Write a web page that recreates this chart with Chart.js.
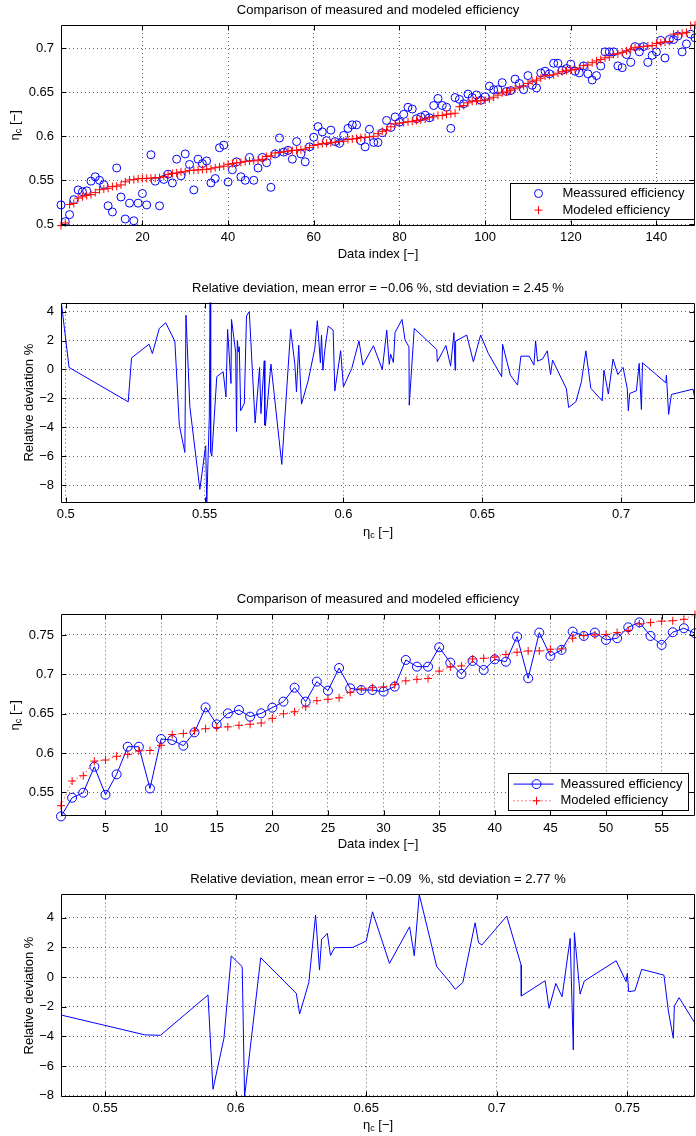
<!DOCTYPE html>
<html lang="en">
<head>
<meta charset="UTF-8">
<title>Measured and modeled efficiency</title>
<script src="https://cdn.jsdelivr.net/npm/chart.js"></script>
<style>
  body { margin: 0; background: #fff; }
  canvas { position: absolute; left: 0; }
</style>
</head>
<body>
<canvas id="c1" width="696" height="262" style="top:0px"></canvas>
<canvas id="c2" width="696" height="283" style="top:262px"></canvas>
<canvas id="c3" width="696" height="308" style="top:545px"></canvas>
<canvas id="c4" width="696" height="283" style="top:853px"></canvas>
<script>
// ---- panel 1: 149 samples, measured vs modeled efficiency
const measured1 = [
  0.522, 0.503, 0.511, 0.528, 0.539, 0.537, 0.538, 0.549, 0.554, 0.550,
  0.545, 0.521, 0.514, 0.564, 0.531, 0.506, 0.524, 0.504, 0.524, 0.535,
  0.522, 0.579, 0.549, 0.521, 0.551, 0.557, 0.547, 0.574, 0.555, 0.580,
  0.568, 0.539, 0.574, 0.569, 0.572, 0.547, 0.552, 0.587, 0.590, 0.548,
  0.562, 0.571, 0.554, 0.550, 0.576, 0.550, 0.564, 0.576, 0.570, 0.542,
  0.580, 0.598, 0.582, 0.584, 0.574, 0.594, 0.580, 0.571, 0.588, 0.599,
  0.611, 0.605, 0.595, 0.607, 0.594, 0.592, 0.601, 0.609, 0.613, 0.613,
  0.595, 0.588, 0.608, 0.593, 0.593, 0.604, 0.618, 0.610, 0.622, 0.616,
  0.625, 0.633, 0.631, 0.620, 0.622, 0.624, 0.621, 0.635, 0.643, 0.635,
  0.633, 0.609, 0.644, 0.642, 0.637, 0.648, 0.644, 0.647, 0.641, 0.645,
  0.657, 0.653, 0.653, 0.661, 0.651, 0.652, 0.665, 0.660, 0.653, 0.669,
  0.658, 0.655, 0.672, 0.674, 0.671, 0.683, 0.683, 0.675, 0.677, 0.682,
  0.674, 0.672, 0.680, 0.671, 0.664, 0.669, 0.680, 0.696, 0.696, 0.696,
  0.680, 0.678, 0.693, 0.684, 0.702, 0.696, 0.702, 0.684, 0.692, 0.696,
  0.709, 0.689, 0.710, 0.710, 0.714, 0.696, 0.705, 0.716, 0.712
];
const modeled1 = [
  0.4985, 0.5015, 0.5225, 0.5237, 0.5297, 0.5312, 0.5326, 0.5337, 0.5360, 0.5393,
  0.5400, 0.5409, 0.5429, 0.5433, 0.5447, 0.5483, 0.5504, 0.5508, 0.5517, 0.5520,
  0.5522, 0.5524, 0.5526, 0.5530, 0.5544, 0.5567, 0.5577, 0.5583, 0.5595, 0.5597,
  0.5612, 0.5615, 0.5618, 0.5622, 0.5625, 0.5630, 0.5643, 0.5651, 0.5661, 0.5682,
  0.5690, 0.5698, 0.5703, 0.5715, 0.5719, 0.5722, 0.5730, 0.5739, 0.5770, 0.5778,
  0.5810, 0.5815, 0.5825, 0.5831, 0.5839, 0.5842, 0.5849, 0.5855, 0.5873, 0.5897,
  0.5906, 0.5917, 0.5921, 0.5926, 0.5933, 0.5940, 0.5945, 0.5963, 0.5969, 0.5975,
  0.5985, 0.5988, 0.5993, 0.6000, 0.6030, 0.6056, 0.6070, 0.6108, 0.6140, 0.6150,
  0.6156, 0.6165, 0.6170, 0.6180, 0.6186, 0.6195, 0.6211, 0.6222, 0.6236, 0.6237,
  0.6250, 0.6255, 0.6262, 0.6336, 0.6350, 0.6380, 0.6398, 0.6402, 0.6404, 0.6410,
  0.6425, 0.6444, 0.6468, 0.6494, 0.6505, 0.6522, 0.6540, 0.6560, 0.6573, 0.6601,
  0.6627, 0.6639, 0.6660, 0.6686, 0.6692, 0.6699, 0.6717, 0.6734, 0.6746, 0.6753,
  0.6760, 0.6775, 0.6803, 0.6811, 0.6837, 0.6857, 0.6873, 0.6891, 0.6900, 0.6932,
  0.6938, 0.6954, 0.6971, 0.6988, 0.7007, 0.7015, 0.7022, 0.7026, 0.7031, 0.7055,
  0.7065, 0.7073, 0.7077, 0.7161, 0.7163, 0.7171, 0.7181, 0.7259, 0.7265
];

// ---- panel 2: relative deviation (%) against eta_c, as traced
const devEta2 = [
  0.4985, 0.5012, 0.5225, 0.5237, 0.5300, 0.5312, 0.5337, 0.5360, 0.5393, 0.5409,
  0.5429, 0.5433, 0.5447, 0.5483, 0.5504, 0.5508, 0.5517, 0.5520, 0.5522, 0.5526,
  0.5544, 0.5567, 0.5577, 0.5583, 0.5595, 0.5597, 0.5612, 0.5615, 0.5618, 0.5622,
  0.5625, 0.5630, 0.5643, 0.5651, 0.5661, 0.5682, 0.5698, 0.5703, 0.5715, 0.5717,
  0.5719, 0.5739, 0.5778, 0.5810, 0.5825, 0.5831, 0.5839, 0.5849, 0.5873, 0.5897,
  0.5906, 0.5917, 0.5921, 0.5926, 0.5933, 0.5945, 0.5963, 0.5969, 0.5990, 0.6000,
  0.6030, 0.6056, 0.6070, 0.6108, 0.6140, 0.6156, 0.6165, 0.6170, 0.6180, 0.6186,
  0.6211, 0.6222, 0.6236, 0.6237, 0.6255, 0.6336, 0.6338, 0.6369, 0.6386, 0.6398,
  0.6402, 0.6404, 0.6444, 0.6468, 0.6494, 0.6522, 0.6570, 0.6573, 0.6601, 0.6627,
  0.6639, 0.6669, 0.6686, 0.6692, 0.6699, 0.6717, 0.6734, 0.6746, 0.6753, 0.6803,
  0.6811, 0.6837, 0.6857, 0.6873, 0.6891, 0.6932, 0.6938, 0.6954, 0.6971, 0.6988,
  0.7007, 0.7022, 0.7026, 0.7031, 0.7055, 0.7065, 0.7073, 0.7077, 0.7161, 0.7163,
  0.7171, 0.7181, 0.7259, 0.7265
];
const devPct2 = [
  4.50, 0.14, -2.24, 0.80, 1.75, 1.10, 2.84, 3.23, 1.96, -3.85,
  -5.74, 3.76, -2.58, -8.30, -5.28, -9.22, -3.28, 4.62, -5.70, -6.00,
  -0.50, -0.16, -1.90, 2.77, -0.97, 3.46, 1.20, -4.30, 2.00, 1.20,
  1.57, -2.86, -2.35, 3.70, 4.00, -3.70, 0.14, -3.05, 0.60, -3.85,
  -3.90, 0.37, -6.57, 2.77, 0.37, -1.55, 1.68, -2.40, -0.78, 1.45,
  3.37, 0.46, 2.37, -0.05, 1.34, 3.00, 2.72, -1.48, 1.30, -1.20,
  0.07, 1.98, 0.30, 1.64, 0.00, 2.72, 0.35, 1.06, 0.48, 2.56,
  3.46, 2.03, 1.57, -2.47, 2.84, 1.38, 0.53, 1.66, 0.23, 2.54,
  -0.05, 1.96, 2.38, 0.53, 2.38, 1.10, -0.50, 1.75, -0.39, -1.08,
  0.92, 0.92, 0.30, 1.98, 0.58, 0.72, 1.29, -0.35, 0.65, -1.34,
  -2.63, -2.24, -0.85, 1.29, -1.31, -2.17, -0.05, -1.70, 0.72, -0.35,
  0.14, -1.31, -2.86, -1.66, -1.48, 0.42, -2.77, 0.46, -0.92, -0.39,
  -3.11, -1.73, -1.36, -2.00
];

// ---- panel 3: 58 samples
const measured3 = [
  0.5195, 0.5432, 0.5496, 0.5826, 0.5470, 0.5729, 0.6080, 0.6080, 0.5550, 0.6178,
  0.6165, 0.6093, 0.6263, 0.6580, 0.6364, 0.6504, 0.6547, 0.6462, 0.6504, 0.6576,
  0.6653, 0.6830, 0.6653, 0.6907, 0.6792, 0.7080, 0.6822, 0.6800, 0.6800, 0.6780,
  0.6843, 0.7182, 0.7097, 0.7097, 0.7343, 0.7148, 0.7004, 0.7170, 0.7055, 0.7190,
  0.7160, 0.7479, 0.6949, 0.7530, 0.7233, 0.7310, 0.7542, 0.7487, 0.7530, 0.7436,
  0.7458, 0.7597, 0.7660, 0.7487, 0.7373, 0.7534, 0.7585, 0.7521
];
const modeled3 = [
  0.5331, 0.5644, 0.5712, 0.5897, 0.5911, 0.5958, 0.5983, 0.6027, 0.6032, 0.6098,
  0.6235, 0.6247, 0.6282, 0.6309, 0.6325, 0.6332, 0.6352, 0.6365, 0.6381, 0.6440,
  0.6498, 0.6524, 0.6587, 0.6665, 0.6683, 0.6701, 0.6772, 0.6815, 0.6830, 0.6840,
  0.6868, 0.6917, 0.6936, 0.6946, 0.7040, 0.7093, 0.7106, 0.7195, 0.7203, 0.7218,
  0.7252, 0.7280, 0.7296, 0.7297, 0.7318, 0.7322, 0.7458, 0.7492, 0.7500, 0.7506,
  0.7530, 0.7556, 0.7640, 0.7657, 0.7675, 0.7680, 0.7698, 0.7759
];

// ---- panel 4: relative deviation (%) against eta_c
const devEta4 = [
  0.5331, 0.5652, 0.5712, 0.5894, 0.5913, 0.5955, 0.5983, 0.6025, 0.6034, 0.6096,
  0.6232, 0.6245, 0.6280, 0.6306, 0.6321, 0.6329, 0.6351, 0.6363, 0.6379, 0.6449,
  0.6500, 0.6524, 0.6589, 0.6666, 0.6684, 0.6703, 0.6770, 0.6821, 0.6841, 0.6870,
  0.6917, 0.6930, 0.6943, 0.7038, 0.7093, 0.7094, 0.7185, 0.7200, 0.7226, 0.7250,
  0.7281, 0.7293, 0.7297, 0.7319, 0.7335, 0.7457, 0.7495, 0.7500, 0.7505, 0.7529,
  0.7555, 0.7640, 0.7657, 0.7676, 0.7680, 0.7698, 0.7759
];
const devPct4 = [
  -2.56, -3.90, -3.93, -1.21, -7.57, -4.13, 1.42, 0.70, -8.07, 1.30,
  -1.10, -2.49, -0.38, 4.18, 0.47, 2.54, 2.94, 1.46, 1.98, 2.00,
  2.43, 4.40, 0.92, 3.39, 1.44, 5.57, 0.70, -0.36, -0.83, -0.36,
  3.66, 2.31, 2.16, 4.11, 0.81, -1.28, -0.25, -2.11, -0.43, -1.33,
  2.61, -4.92, 2.99, -1.15, -0.27, 1.10, -0.31, 0.25, -0.99, -0.92,
  0.52, 0.13, -2.29, -4.13, -1.96, -1.39, -3.12
];

// tick positions
const indexTicks1 = [20, 40, 60, 80, 100, 120, 140];
const etaTicks1 = [0.5, 0.55, 0.6, 0.65, 0.7];
const etaTicks2 = [0.5, 0.55, 0.6, 0.65, 0.7];
const devTicks2 = [-8, -6, -4, -2, 0, 2, 4];
const indexTicks3 = [5, 10, 15, 20, 25, 30, 35, 40, 45, 50, 55];
const etaTicks3 = [0.55, 0.6, 0.65, 0.7, 0.75];
const etaTicks4 = [0.55, 0.6, 0.65, 0.7, 0.75];
const devTicks4 = [-8, -6, -4, -2, 0, 2, 4];

const FONT = '"Liberation Sans", Arial, Helvetica, sans-serif';
Chart.defaults.font.family = FONT;
Chart.defaults.font.size = 13;
Chart.defaults.color = '#000';

const BLUE = '#0000ff';
const RED = '#ff0000';

const xy = (xs, ys) => xs.map((x, i) => ({x: x, y: ys[i]}));
const seq = n => Array.from({length: n}, (_, i) => i + 1);
const fmt = v => String(Math.round(v * 1000) / 1000).replace('-', '\u2212');

function drawEta(ctx, cx, cy, rotate) {
  ctx.save();
  ctx.translate(cx, cy);
  if (rotate) ctx.rotate(-Math.PI / 2);
  ctx.fillStyle = '#000';
  ctx.textBaseline = 'middle';
  ctx.textAlign = 'left';
  ctx.font = '13px ' + FONT;
  const w1 = ctx.measureText('\u03b7').width;
  const w3 = ctx.measureText(' [\u2212]').width;
  ctx.font = '9px ' + FONT;
  const w2 = ctx.measureText('c').width;
  const x0 = -(w1 + w2 + w3) / 2;
  ctx.font = '13px ' + FONT;
  ctx.fillText('\u03b7', x0, 0);
  ctx.font = '9px ' + FONT;
  ctx.fillText('c', x0 + w1, 4);
  ctx.font = '13px ' + FONT;
  ctx.fillText(' [\u2212]', x0 + w1 + w2, 0);
  ctx.restore();
}

function drawLegend(chart, lg) {
  const ctx = chart.ctx, a = chart.chartArea;
  const x0 = Math.round(a.right - lg.right - lg.w) + 0.5;
  const y0 = Math.round(a.bottom - lg.bottom - lg.h) + 0.5;
  ctx.fillStyle = '#fff';
  ctx.fillRect(x0, y0, lg.w, lg.h);
  ctx.strokeStyle = '#000';
  ctx.lineWidth = 1;
  ctx.strokeRect(x0, y0, lg.w, lg.h);
  chart.data.datasets.forEach((ds, i) => {
    const y = y0 + lg.rows[i];
    const mx = x0 + 28;
    ctx.strokeStyle = ds.pointBorderColor;
    ctx.lineWidth = 1;
    if (ds.showLine) {
      ctx.setLineDash(ds.borderDash || []);
      ctx.beginPath();
      ctx.moveTo(x0 + 5, y);
      ctx.lineTo(x0 + 45, y);
      ctx.stroke();
      ctx.setLineDash([]);
    }
    const r = ds.pointRadius;
    ctx.beginPath();
    if (ds.pointStyle === 'circle') {
      ctx.arc(mx, y, r, 0, Math.PI * 2);
    } else {
      ctx.moveTo(mx - r, y); ctx.lineTo(mx + r, y);
      ctx.moveTo(mx, y - r); ctx.lineTo(mx, y + r);
    }
    ctx.stroke();
    ctx.fillStyle = '#000';
    ctx.font = '13px ' + FONT;
    ctx.textAlign = 'left';
    ctx.textBaseline = 'middle';
    ctx.fillText(ds.label, x0 + 52, y);
  });
}

// matlab-like box, inward ticks, title, eta label and boxed legend
const frame = {
  id: 'frame',
  afterDraw(chart, args, o) {
    const {ctx, chartArea: a} = chart;
    const xs = chart.scales.x, ys = chart.scales.y;
    const L = Math.round(a.left) + 0.5, R = Math.round(a.right) - 0.5;
    const T = Math.round(a.top) + 0.5, B = Math.round(a.bottom) - 0.5;
    ctx.save();
    ctx.strokeStyle = '#000';
    ctx.lineWidth = 1;
    ctx.beginPath();
    ctx.rect(L, T, R - L, B - T);
    xs.ticks.forEach(t => {
      const p = Math.round(xs.getPixelForValue(t.value)) + 0.5;
      ctx.moveTo(p, B); ctx.lineTo(p, B - 5);
      ctx.moveTo(p, T); ctx.lineTo(p, T + 5);
    });
    ys.ticks.forEach(t => {
      const p = Math.round(ys.getPixelForValue(t.value)) + 0.5;
      ctx.moveTo(L, p); ctx.lineTo(L + 5, p);
      ctx.moveTo(R, p); ctx.lineTo(R - 5, p);
    });
    ctx.stroke();
    ctx.fillStyle = '#000';
    ctx.font = '13px ' + FONT;
    ctx.textAlign = 'center';
    ctx.textBaseline = 'middle';
    ctx.fillText(o.title, (a.left + a.right) / 2, o.titleY);
    if (o.eta) drawEta(ctx, o.eta.x, o.eta.y, o.eta.rotate);
    if (o.legend) drawLegend(chart, o.legend);
    ctx.restore();
  }
};

function axis(dir, min, max, ticks, size, title) {
  return {
    type: 'linear',
    min: min,
    max: max,
    afterBuildTicks: s => { s.ticks = ticks.map(v => ({value: v})); },
    afterFit: s => { if (dir === 'x') s.height = size; else s.width = size; },
    ticks: {
      autoSkip: false, maxRotation: 0, includeBounds: false,
      padding: dir === 'x' ? 4 : 7,
      color: '#000',
      font: {size: 13},
      callback: v => fmt(v)
    },
    grid: {color: 'rgba(0,0,0,0.6)', lineWidth: 1, drawTicks: false, borderDash: [1, 3]},
    border: {display: false, dash: [1, 3]},
    title: title ? {display: true, text: title.text, color: '#000', font: {size: 13}, padding: title.pad} : {display: false}
  };
}

function makeChart(id, p) {
  return new Chart(document.getElementById(id), {
    type: 'scatter',
    data: {datasets: p.datasets},
    options: {
      responsive: false,
      animation: false,
      events: [],
      layout: {padding: {top: p.top, right: 1, left: 0, bottom: 0}, autoPadding: false},
      plugins: {legend: {display: false}, tooltip: {enabled: false}, frame: p.frame},
      scales: {x: p.x, y: p.y}
    },
    plugins: [frame]
  });
}

function markers(label, xs, ys, style, color, order, extra) {
  return Object.assign({
    label: label,
    data: xy(xs, ys),
    showLine: false,
    pointStyle: style,
    pointRadius: 4,
    pointBorderWidth: 1,
    pointBorderColor: color,
    pointBackgroundColor: 'rgba(0,0,0,0)',
    borderColor: color,
    borderWidth: 1,
    clip: false,
    order: order
  }, extra || {});
}

// panel 1
makeChart('c1', {
  top: 25,
  datasets: [
    markers('Meassured efficiency', seq(measured1.length), measured1, 'circle', BLUE, 1),
    markers('Modeled efficiency', seq(modeled1.length), modeled1, 'cross', RED, 0)
  ],
  x: axis('x', 1, 149, indexTicks1, 36.4, {text: 'Data index [\u2212]', pad: {top: 0, bottom: 0}}),
  y: axis('y', 0.4985, 0.7265, etaTicks1, 61),
  frame: {
    title: 'Comparison of measured and modeled efficiency', titleY: 10.7,
    eta: {x: 15, y: 125.3, rotate: true},
    legend: {right: 1, bottom: 6.6, w: 184, h: 36, rows: [10, 26.6]}
  }
});

// panel 2
makeChart('c2', {
  top: 40.7,
  datasets: [{
    label: 'Relative deviation',
    data: xy(devEta2, devPct2),
    showLine: true,
    pointRadius: 0,
    borderColor: BLUE,
    borderWidth: 1,
    clip: false
  }],
  x: axis('x', 0.4983, 0.7266, etaTicks2, 42.3),
  y: axis('y', -9.22, 4.62, devTicks2, 61, {text: 'Relative deviation %', pad: {top: 21.5, bottom: 0}}),
  frame: {
    title: 'Relative deviation, mean error = \u22120.06 %, std deviation = 2.45 %', titleY: 26,
    eta: {x: 378, y: 270, rotate: false}
  }
});

// panel 3
makeChart('c3', {
  top: 69.3,
  datasets: [
    markers('Meassured efficiency', seq(measured3.length), measured3, 'circle', BLUE, 1,
      {showLine: true, pointRadius: 4.5}),
    markers('Modeled efficiency', seq(modeled3.length), modeled3, 'cross', RED, 0,
      {showLine: true, borderDash: [1, 3]})
  ],
  x: axis('x', 1, 58, indexTicks3, 36.6, {text: 'Data index [\u2212]', pad: {top: 0, bottom: 0.8}}),
  y: axis('y', 0.5195, 0.7762, etaTicks3, 61),
  frame: {
    title: 'Comparison of measured and modeled efficiency', titleY: 54.3,
    eta: {x: 15, y: 170.3, rotate: true},
    legend: {right: 6.7, bottom: 6.4, w: 180, h: 37, rows: [10.6, 27.3]}
  }
});

// panel 4
makeChart('c4', {
  top: 41.3,
  datasets: [{
    label: 'Relative deviation',
    data: xy(devEta4, devPct4),
    showLine: true,
    pointRadius: 0,
    borderColor: BLUE,
    borderWidth: 1,
    clip: false
  }],
  x: axis('x', 0.5331, 0.7759, etaTicks4, 39.3),
  y: axis('y', -8.07, 5.58, devTicks4, 61, {text: 'Relative deviation %', pad: {top: 21.5, bottom: 0}}),
  frame: {
    title: 'Relative deviation, mean error = \u22120.09  %, std deviation = 2.77 %', titleY: 26.3,
    eta: {x: 378, y: 272, rotate: false}
  }
});
</script>
</body>
</html>
